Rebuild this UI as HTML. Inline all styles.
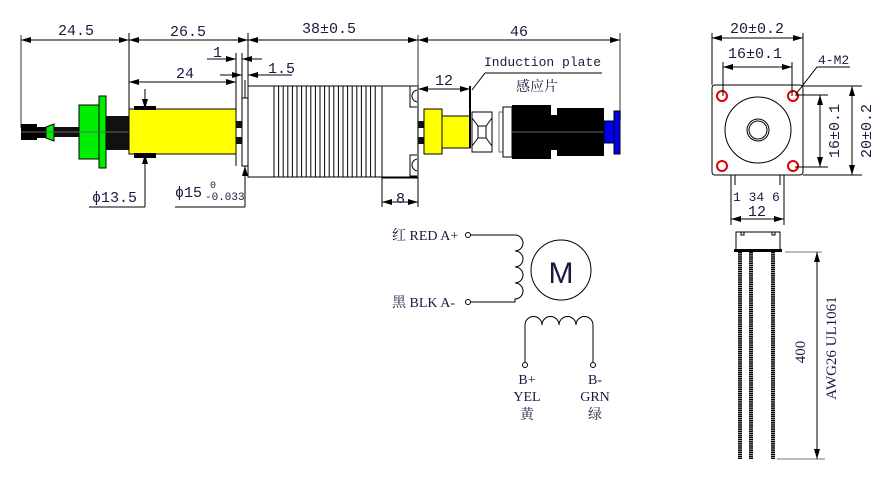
<!DOCTYPE html>
<html><head><meta charset="utf-8"><style>
html,body{margin:0;padding:0;background:#fff;}
svg{display:block;}
text{font-family:"Liberation Serif","Noto Serif CJK SC",serif;fill:#1a1a40;}
.m{font-family:"Liberation Mono","Noto Sans CJK SC",monospace;}
.d{stroke:#000;stroke-width:1;fill:none;}
.g{stroke:#777;stroke-width:1.5;fill:none;}
</style></head><body>
<svg width="887" height="479" viewBox="0 0 887 479" xmlns="http://www.w3.org/2000/svg">
<defs>
<marker id="a" viewBox="0 0 10 6" refX="10" refY="3" markerWidth="10" markerHeight="6" orient="auto-start-reverse" markerUnits="userSpaceOnUse"><path d="M0,0L10,3L0,6z" fill="#000"/></marker>
</defs>
<g class="g">
<line x1="21" y1="35" x2="21" y2="128"/>
<line x1="418" y1="35" x2="418" y2="177"/>
<line x1="620" y1="33" x2="620" y2="120"/>
</g>
<g class="d">
<line x1="129" y1="33" x2="129" y2="109"/>
<line x1="248" y1="33" x2="248" y2="86"/>
<line x1="236" y1="53" x2="236" y2="166"/>
<line x1="242" y1="53" x2="242" y2="166"/>
<line x1="21" y1="40" x2="129" y2="40" marker-start="url(#a)" marker-end="url(#a)"/>
<line x1="129" y1="40" x2="248" y2="40" marker-start="url(#a)" marker-end="url(#a)"/>
<line x1="248" y1="40" x2="418" y2="40" marker-start="url(#a)" marker-end="url(#a)"/>
<line x1="418" y1="40" x2="620" y2="40" marker-start="url(#a)" marker-end="url(#a)"/>
<line x1="207" y1="59" x2="236" y2="59" marker-end="url(#a)"/>
<line x1="262" y1="59" x2="242" y2="59" marker-end="url(#a)"/>
<line x1="220" y1="75" x2="242" y2="75" marker-end="url(#a)"/>
<line x1="292" y1="75" x2="248" y2="75" marker-end="url(#a)"/>
<line x1="129" y1="82" x2="236" y2="82" marker-start="url(#a)" marker-end="url(#a)"/>
<line x1="418" y1="89" x2="470" y2="89" marker-start="url(#a)" marker-end="url(#a)"/>
<polyline points="472,90 485,73 602,73"/>
<line x1="145" y1="89" x2="145" y2="109" marker-end="url(#a)"/>
<line x1="145" y1="207" x2="145" y2="154" marker-end="url(#a)"/>
<line x1="89" y1="207" x2="145" y2="207"/>
<line x1="245" y1="80" x2="245" y2="98"/>
<line x1="245" y1="207" x2="245" y2="166" marker-end="url(#a)"/>
<line x1="175" y1="207" x2="245" y2="207"/>
<line x1="382" y1="177" x2="382" y2="207"/>
<line x1="418" y1="177" x2="418" y2="207"/>
<line x1="382" y1="202" x2="418" y2="202" marker-start="url(#a)" marker-end="url(#a)"/>
<line x1="382" y1="178" x2="418" y2="178"/>
</g>
<g font-size="15" class="m">
<text class="m" x="58" y="35">24.5</text>
<text class="m" x="170" y="36">26.5</text>
<text class="m" x="302" y="33">38±0.5</text>
<text class="m" x="510" y="36">46</text>
<text class="m" x="213" y="57">1</text>
<text class="m" x="268" y="73">1.5</text>
<text class="m" x="176" y="78">24</text>
<text class="m" x="435" y="85">12</text>
<text class="m" x="484" y="66" font-size="13">Induction plate</text>
<text x="516" y="91" font-size="14">感应片</text>
<text class="m" x="92" y="202">ϕ13.5</text>
<text class="m" x="175" y="197">ϕ15</text>
<text class="m" x="210" y="188" font-size="10">0</text>
<text class="m" x="205" y="200" font-size="11">-0.033</text>
<text class="m" x="396" y="203">8</text>
</g>
<rect x="21" y="124" width="16" height="16" fill="#000"/>
<rect x="37" y="127" width="10" height="11" fill="#000"/>
<polygon points="46,127 54,124 54,141 46,138" fill="#00ee00" stroke="#000"/>
<rect x="54" y="127" width="25" height="10" fill="#111"/>
<rect x="79" y="105" width="20" height="54" fill="#00ee00" stroke="#000"/>
<rect x="99" y="96" width="7" height="72" fill="#00ee00" stroke="#000"/>
<rect x="106" y="116" width="23" height="34" fill="#111"/>
<line x1="21" y1="132" x2="129" y2="132" stroke="#666"/>
<rect x="129" y="109" width="107" height="45" fill="#ffff00" stroke="#000"/>
<rect x="134" y="106" width="22" height="4" fill="#000"/>
<rect x="134" y="153" width="22" height="5" fill="#000"/>
<rect x="236" y="121" width="6" height="7" fill="#111"/>
<rect x="236" y="137" width="6" height="7" fill="#111"/>
<rect x="242" y="98" width="6" height="68" fill="#fff" stroke="#000"/>
<rect x="248" y="86" width="170" height="91" fill="#fff" stroke="#000"/>
<g stroke="#000">
<line x1="274" y1="86" x2="274" y2="177"/><line x1="278.6" y1="86" x2="278.6" y2="177"/><line x1="283.2" y1="86" x2="283.2" y2="177"/><line x1="287.8" y1="86" x2="287.8" y2="177"/><line x1="292.4" y1="86" x2="292.4" y2="177"/><line x1="297" y1="86" x2="297" y2="177"/><line x1="301.6" y1="86" x2="301.6" y2="177"/><line x1="306.2" y1="86" x2="306.2" y2="177"/><line x1="310.8" y1="86" x2="310.8" y2="177"/><line x1="315.4" y1="86" x2="315.4" y2="177"/><line x1="320" y1="86" x2="320" y2="177"/><line x1="324.6" y1="86" x2="324.6" y2="177"/><line x1="329.2" y1="86" x2="329.2" y2="177"/><line x1="333.8" y1="86" x2="333.8" y2="177"/><line x1="338.4" y1="86" x2="338.4" y2="177"/><line x1="343" y1="86" x2="343" y2="177"/><line x1="347.6" y1="86" x2="347.6" y2="177"/><line x1="352.2" y1="86" x2="352.2" y2="177"/><line x1="356.8" y1="86" x2="356.8" y2="177"/><line x1="361.4" y1="86" x2="361.4" y2="177"/><line x1="366" y1="86" x2="366" y2="177"/><line x1="370.6" y1="86" x2="370.6" y2="177"/><line x1="375.2" y1="86" x2="375.2" y2="177"/><line x1="382" y1="86" x2="382" y2="177"/>
</g>
<rect x="410" y="86" width="8" height="21" fill="#fff" stroke="#000"/>
<path d="M418,90 A5,5 0 1 0 418,102" fill="none" stroke="#000"/>
<rect x="410" y="155" width="8" height="21" fill="#fff" stroke="#000"/>
<path d="M418,159 A5,5 0 1 0 418,171" fill="none" stroke="#000"/>
<line x1="418" y1="86" x2="418" y2="177" stroke="#777" stroke-width="2"/>
<rect x="418" y="121" width="6" height="7" fill="#111"/>
<rect x="418" y="137" width="6" height="7" fill="#111"/>
<rect x="424" y="109" width="18" height="45" fill="#ffff00" stroke="#000"/>
<rect x="442" y="116" width="28" height="32" fill="#ffff00" stroke="#000"/>
<line x1="470" y1="86" x2="470" y2="148" stroke="#000" stroke-width="2"/>
<rect x="472" y="112" width="20" height="40" fill="#fff" stroke="#000"/>
<path d="M472,118L478,126L486,126L492,118M478,126L478,138L486,138L486,126M472,146L478,138M486,138L492,146" fill="none" stroke="#000"/>
<rect x="499" y="112" width="4" height="40" fill="#fff" stroke="#777"/>
<rect x="503" y="107" width="9" height="50" fill="#fff" stroke="#000"/>
<rect x="512" y="105" width="39" height="54" fill="#000"/>
<rect x="551" y="115" width="6" height="35" fill="#000"/>
<rect x="557" y="108" width="47" height="48" fill="#000"/>
<line x1="512" y1="132" x2="604" y2="132" stroke="#666"/>
<rect x="604" y="121" width="10" height="22" fill="#0000ee" stroke="#000"/>
<rect x="614" y="111" width="6" height="43" fill="#0000ee" stroke="#000"/>
<rect x="712" y="85" width="91" height="90" rx="3" fill="#fff" stroke="#000"/>
<g fill="none" stroke="#e00000" stroke-width="2">
<circle cx="722" cy="96" r="5"/><circle cx="793" cy="96" r="5"/><circle cx="722" cy="166" r="5"/><circle cx="793" cy="166" r="5"/>
</g>
<g class="d">
<circle cx="758" cy="130" r="33"/>
<circle cx="758" cy="130" r="11"/>
<circle cx="758" cy="130" r="9"/>
<line x1="712" y1="33" x2="712" y2="85"/>
<line x1="803" y1="33" x2="803" y2="85"/>
<line x1="712" y1="38" x2="803" y2="38" marker-start="url(#a)" marker-end="url(#a)"/>
<line x1="723" y1="62" x2="723" y2="96"/>
<line x1="792" y1="62" x2="792" y2="96"/>
<line x1="723" y1="67" x2="792" y2="67" marker-start="url(#a)" marker-end="url(#a)"/>
<polyline points="796,94 817,67 850,67"/>
<line x1="803" y1="86" x2="862" y2="86"/>
<line x1="803" y1="175" x2="862" y2="175"/>
<line x1="795" y1="95" x2="828" y2="95"/>
<line x1="795" y1="167" x2="828" y2="167"/>
<line x1="820" y1="95" x2="820" y2="167" marker-start="url(#a)" marker-end="url(#a)"/>
<line x1="852" y1="86" x2="852" y2="175" marker-start="url(#a)" marker-end="url(#a)"/>
<line x1="731" y1="175" x2="731" y2="225"/>
<line x1="784" y1="175" x2="784" y2="225"/>
<line x1="735" y1="175" x2="735" y2="185"/>
<line x1="780" y1="175" x2="780" y2="185"/>
<line x1="731" y1="219" x2="784" y2="219" marker-start="url(#a)" marker-end="url(#a)"/>
</g>
<g font-size="15">
<text class="m" x="730" y="33">20±0.2</text>
<text class="m" x="728" y="58">16±0.1</text>
<text class="m" x="818" y="64" font-size="13">4-M2</text>
<text class="m" x="733" y="201" font-size="13">1 34 6</text>
<text class="m" x="748" y="216">12</text>
<text class="m" transform="translate(839,131) rotate(-90)" text-anchor="middle">16±0.1</text>
<text class="m" transform="translate(871,131) rotate(-90)" text-anchor="middle">20±0.2</text>
</g>
<rect x="736" y="232" width="44" height="18" fill="#fff" stroke="#000"/>
<rect x="741" y="232" width="3" height="3" fill="none" stroke="#000"/>
<rect x="772" y="232" width="3" height="3" fill="none" stroke="#000"/>
<rect x="734" y="249" width="48" height="3" fill="#000"/>
<g stroke="#000" stroke-width="4" stroke-dasharray="1.5 0.6">
<line x1="740" y1="252" x2="740" y2="459"/>
<line x1="751" y1="252" x2="751" y2="459"/>
<line x1="773" y1="252" x2="773" y2="459"/>
</g>
<g class="d">
<line x1="785" y1="252" x2="822" y2="252" stroke="#777"/>
<line x1="777" y1="459" x2="825" y2="459" stroke="#777"/>
<line x1="817" y1="252" x2="817" y2="459" marker-start="url(#a)" marker-end="url(#a)"/>
</g>
<g font-size="15">
<text transform="translate(805,352) rotate(-90)" text-anchor="middle">400</text>
<text transform="translate(836,348) rotate(-90)" text-anchor="middle">AWG26 UL1061</text>
</g>
<g class="d" stroke-width="1.3">
<circle cx="468" cy="235" r="2.5" fill="#fff"/>
<circle cx="468" cy="302" r="2.5" fill="#fff"/>
<path d="M470,235 L515,235 A8,8 0 0 1 515,251 A8,8 0 0 1 515,267 A8,8 0 0 1 515,283 A8,8 0 0 1 515,299 L515,302 L470,302"/>
<circle cx="561" cy="270" r="30"/>
<path d="M525,362 L525,325 A8,8 0 0 1 542,325 A8,8 0 0 1 559,325 A8,8 0 0 1 576,325 A8,8 0 0 1 593,325 L593,362"/>
<circle cx="525" cy="365" r="2.5" fill="#fff"/>
<circle cx="593" cy="365" r="2.5" fill="#fff"/>
</g>
<text x="561" y="283" font-size="30" text-anchor="middle" style="font-family:'Liberation Sans',sans-serif">M</text>
<g font-size="14">
<text x="392" y="240">红 RED A+</text>
<text x="392" y="307">黑 BLK A-</text>
<text x="527" y="384" text-anchor="middle">B+</text>
<text x="527" y="401" text-anchor="middle">YEL</text>
<text x="527" y="419" text-anchor="middle">黄</text>
<text x="595" y="384" text-anchor="middle">B-</text>
<text x="595" y="401" text-anchor="middle">GRN</text>
<text x="595" y="419" text-anchor="middle">绿</text>
</g>
</svg>
</body></html>
